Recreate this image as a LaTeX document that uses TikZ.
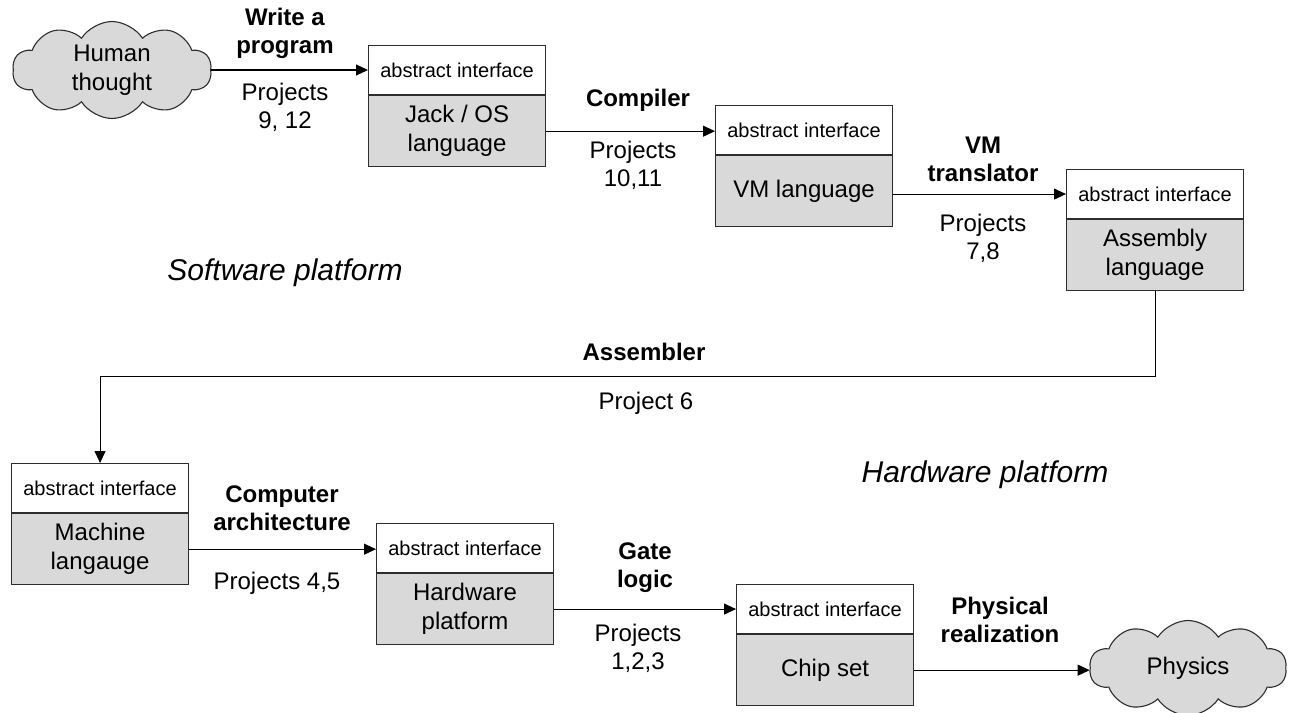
\documentclass[tikz,border=0pt]{standalone}
\usepackage{fontspec}
\setmainfont{Liberation Sans}
\usetikzlibrary{shapes.symbols,arrows.meta}
\definecolor{panel}{RGB}{217,217,217}
\definecolor{edge}{RGB}{45,45,45}

\begin{document}
\begin{tikzpicture}[x=1pt,y=-1pt,
  iface/.style={draw=edge, line width=1.1pt, fill=white, minimum width=177pt,
    minimum height=49pt, inner sep=0pt, anchor=north west,
    font=\fontsize{20}{24}\selectfont},
  lang/.style={draw=edge, line width=1.1pt, fill=panel, minimum width=177pt,
    minimum height=71pt, inner sep=0pt, anchor=north, align=center,
    font=\fontsize{24}{29}\selectfont},
  thought/.style={cloud, cloud puffs=10, cloud puff arc=115, cloud ignores aspect,
    draw=edge, line width=1.1pt, fill=panel, align=center, inner sep=0pt,
    font=\fontsize{24}{29}\selectfont},
  flow/.style={line width=1.1pt, -{Triangle[length=12pt,width=11pt]}},
  step label/.style={font=\fontsize{24}{28}\selectfont\bfseries, align=center},
  proj label/.style={font=\fontsize{24}{28}\selectfont, align=center},
  platform/.style={font=\fontsize{30}{36}\selectfont\itshape}
]
\useasboundingbox (0,0) rectangle (1292,712);

% clouds at both ends of the chain
\node[thought, minimum width=199pt, minimum height=97pt] (human) at (112,70) {Human\\thought};
\node[thought, minimum width=197pt, minimum height=95pt] (phys) at (1188,668) {Physics};

% abstraction layers: interface on top, implementation below
\node[iface] (jackI) at (368,45) {abstract interface};
\node[lang] (jack) at (jackI.south) {Jack / OS\\language};

\node[iface] (vmI) at (715,105) {abstract interface};
\node[lang] (vm) at (vmI.south) {VM language};

\node[iface] (asmI) at (1066,169) {abstract interface};
\node[lang] (asm) at (asmI.south) {Assembly\\language};

\node[iface] (machI) at (11,463) {abstract interface};
\node[lang] (mach) at (machI.south) {Machine\\langauge};

\node[iface] (hwI) at (376,523) {abstract interface};
\node[lang] (hw) at (hwI.south) {Hardware\\platform};

\node[iface] (chipI) at (736,584) {abstract interface};
\node[lang] (chip) at (chipI.south) {Chip set};

% connectors
\draw[flow] (human.east) -- (human.east -| jackI.west);
\draw[flow] (jack.east) -- (jack.east -| vmI.west);
\draw[flow] (vm.east |- asmI.west) -- (asmI.west);
\draw[flow] (asm.south) -- ++(0,85) -| (machI.north);
\draw[flow] (mach.east) -- (mach.east -| hwI.west);
\draw[flow] (hw.east |- chipI.west) -- (chipI.west);
\draw[flow] (chip.east) -- (chip.east -| phys.west);

% step labels
\node[step label] (l1) at (285,33) {Write a\\program};
\node[proj label] (p1) at (285,107) {Projects\\9, 12};
\node[step label] (l2) at (638,100) {Compiler};
\node[proj label] (p2) at (633,165) {Projects\\10,11};
\node[step label] (l3) at (983,159) {VM\\translator};
\node[proj label] (p3) at (983,238) {Projects\\7,8};
\node[step label] (l4) at (644,352) {Assembler};
\node[proj label] (p4) at (646,403) {Project 6};
\node[step label] (l5) at (282,508) {Computer\\architecture};
\node[proj label] (p5) at (277,583) {Projects 4,5};
\node[step label] (l6) at (645,568) {Gate\\logic};
\node[proj label] (p6) at (638,648) {Projects\\1,2,3};
\node[step label] (l7) at (1000,620) {Physical\\realization};

% platform captions
\node[platform] (sw) at (285,273) {Software platform};
\node[platform] (hwp) at (985,475) {Hardware platform};
\end{tikzpicture}
\end{document}
